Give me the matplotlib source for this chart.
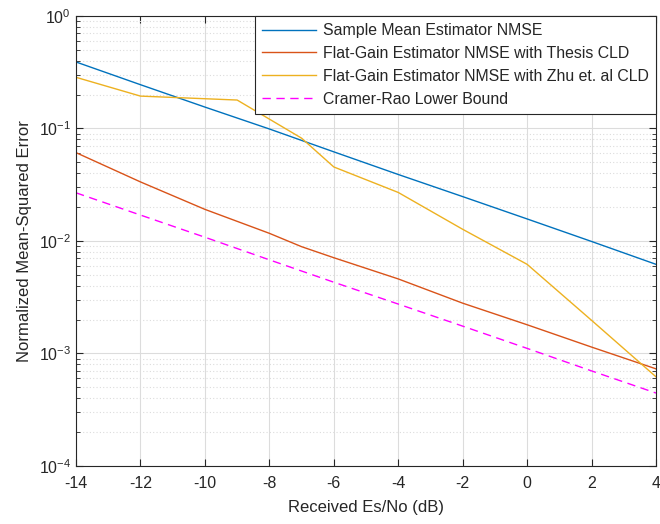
import matplotlib
matplotlib.use("Agg")
import matplotlib.pyplot as plt
from matplotlib.ticker import LogLocator, NullFormatter

plt.rcParams["font.family"] = ["Liberation Sans", "DejaVu Sans"]
plt.rcParams["mathtext.fontset"] = "custom"
plt.rcParams["mathtext.rm"] = "Liberation Sans"
plt.rcParams["axes.unicode_minus"] = False

# --- data ---
snr_db = [-14, -12, -10, -8, -6, -4, -2, 0, 2, 4]
sample_mean = [0.39, 0.245, 0.155, 0.099, 0.062, 0.039, 0.0248, 0.0157, 0.0099, 0.0062]

thesis_db = [-14, -12, -10, -8, -7, -6, -4, -2, 0, 2, 4]
thesis_cld = [0.061, 0.0335, 0.0191, 0.0117, 0.0089, 0.0071, 0.0046, 0.0028, 0.0018, 0.00114, 0.00073]

zhu_db = [-14, -12, -9, -7, -6, -4, -2, 0, 2, 4]
zhu_cld = [0.285, 0.194, 0.179, 0.082, 0.0455, 0.027, 0.0127, 0.0062, 0.00197, 0.00062]

crlb = [0.0268, 0.017, 0.0108, 0.0068, 0.0043, 0.00275, 0.00175, 0.00111, 0.0007, 0.000445]

labels = [
    "Sample Mean Estimator NMSE",
    "Flat-Gain Estimator NMSE with Thesis CLD",
    "Flat-Gain Estimator NMSE with Zhu et. al CLD",
    "Cramer-Rao Lower Bound",
]

# MATLAB default colours
BLUE = "#0072BD"
ORANGE = "#D95319"
YELLOW = "#EDB120"
MAGENTA = "#FF00FF"
AX_COLOR = "#262626"

fig = plt.figure(figsize=(6.6, 5.24), dpi=100)
ax = fig.add_axes([0.1152, 0.1107, 0.8788, 0.8588])

ax.semilogy(snr_db, sample_mean, color=BLUE, lw=1.0, label=labels[0])
ax.semilogy(thesis_db, thesis_cld, color=ORANGE, lw=1.0, label=labels[1])
ax.semilogy(zhu_db, zhu_cld, color=YELLOW, lw=1.0, label=labels[2])
ax.semilogy(snr_db, crlb, color=MAGENTA, lw=1.0, ls=(0, (6, 4)), label=labels[3])

ax.set_xlim(-14, 4)
ax.set_ylim(1e-4, 1)
ax.set_xticks(range(-14, 5, 2))
ax.yaxis.set_major_locator(LogLocator(base=10, numticks=10))
ax.yaxis.set_minor_locator(LogLocator(base=10, subs=range(2, 10), numticks=50))
ax.yaxis.set_minor_formatter(NullFormatter())

ax.grid(True, which="major", color="#dcdcdc", lw=0.8)
ax.grid(True, which="minor", axis="y", color="#dcdcdc", lw=0.8, ls=(0, (1, 2)))
ax.set_axisbelow(True)

for side in ax.spines.values():
    side.set_color(AX_COLOR)
    side.set_linewidth(0.8)
ax.tick_params(which="both", direction="in", top=True, right=True, colors=AX_COLOR,
               labelsize=11.5)
ax.tick_params(which="major", length=5)
ax.tick_params(which="minor", length=3)
ax.tick_params(axis="x", pad=7)

ax.set_xlabel("Received Es/No (dB)", fontsize=12, color=AX_COLOR, labelpad=7)
ax.set_ylabel("Normalized Mean-Squared Error", fontsize=12, color=AX_COLOR, labelpad=5)

leg = ax.legend(loc="upper right", borderaxespad=0, fancybox=False, framealpha=1,
                edgecolor=AX_COLOR, fontsize=11.4, handlelength=3.4, handletextpad=0.45,
                labelspacing=0.5, borderpad=0.45)
leg.get_frame().set_linewidth(0.8)
for t in leg.get_texts():
    t.set_color(AX_COLOR)

fig.savefig("out.png", dpi=100)
